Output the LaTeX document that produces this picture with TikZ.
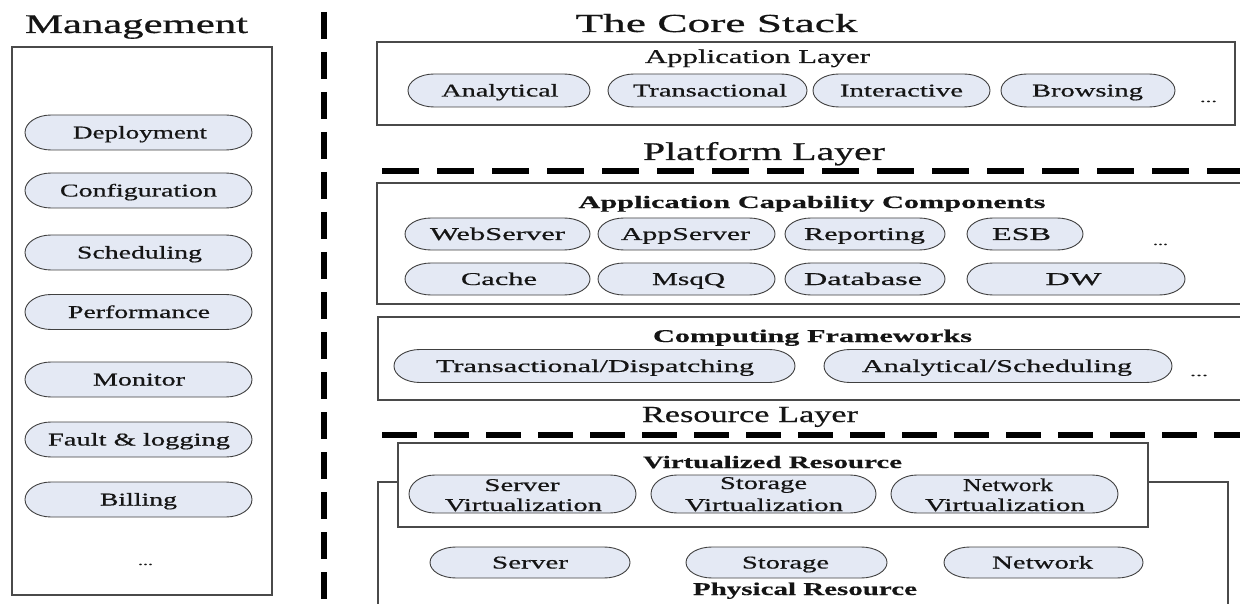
\documentclass[tikz,border=0pt]{standalone}
\usepackage{fontspec}
\setmainfont{Liberation Serif}[UprightFeatures={FakeBold=0.5},BoldFeatures={FakeBold=0.3}]
\usepackage{graphicx}
\definecolor{pillfill}{HTML}{E4E9F4}
\definecolor{pilldraw}{HTML}{404040}
\definecolor{boxdraw}{HTML}{4A4A4A}
\definecolor{txtcol}{HTML}{151515}
\tikzset{
  txt/.style={inner sep=0pt, anchor=base, text=txtcol},
  pillstyle/.style={fill=pillfill, draw=pilldraw, line width=0.9pt},
  boxstyle/.style={draw=boxdraw, line width=1.6pt},
  platsep/.style={line width=5.5pt, dash pattern=on 37pt off 18pt},
  ressep/.style={line width=5.5pt, dash pattern=on 35pt off 17pt},
  vsep/.style={line width=6pt, dash pattern=on 27pt off 13pt},
}
\newcommand\tx[3]{{\fontsize{#1pt}{#1pt}\selectfont\resizebox{#2pt}{\height}{#3}}}
\def\pillrx{26}
\newcommand\pillshape[4]{%
  \pgfmathsetmacro\plA{#1+\pillrx}%
  \pgfmathsetmacro\plB{#2-\pillrx}%
  \pgfmathsetmacro\plT{#3-#4/2}%
  \pgfmathsetmacro\plBo{#3+#4/2}%
  \pgfmathsetmacro\plry{#4/2}%
  \filldraw[pillstyle] (\plA,\plT) -- (\plB,\plT)
    arc[start angle=-90,end angle=90,x radius=\pillrx,y radius=\plry]
    -- (\plA,\plBo)
    arc[start angle=90,end angle=270,x radius=\pillrx,y radius=\plry] -- cycle;
}
\newcommand\pill[8]{\pillshape{#1}{#2}{#3}{#4}\node[txt] (#5) at (#6,#3+6) {\tx{18}{#7}{#8}};}
\begin{document}
\begin{tikzpicture}[x=1pt,y=-1pt]
\useasboundingbox[fill=white] (0,0) rectangle (1240,604);

% ---------- Management ----------
\node[txt] (mgmt) at (136.5,33) {\tx{27}{223}{Management}};
\draw[boxstyle] (12,47) rectangle (272,595);
\pill{25}{252}{132.5}{35}{dep}{140}{134}{Deployment}
\pill{25}{252}{190.5}{35}{conf}{138.5}{157}{Configuration}
\pill{25}{252}{252.5}{35}{sched}{139.5}{125}{Scheduling}
\pill{25}{252}{312}{35}{perf}{139}{142}{Performance}
\pill{25}{252}{379.5}{35}{mon}{139}{92}{Monitor}
\pill{25}{252}{439.5}{35}{fault}{139}{182}{Fault \& logging}
\pill{25}{252}{499.5}{35}{bill}{138.5}{77}{Billing}
\node[txt] (mdots) at (145.5,565) {\tx{12}{15}{...}};

% vertical separator
\coordinate (vtop) at (324,12);
\coordinate (vbot) at (324,600);
\draw[vsep] (vtop) -- (vbot);

% ---------- Core stack ----------
\node[txt] (core) at (716.5,32) {\tx{26}{282}{The Core Stack}};

% Application layer
\draw[boxstyle] (377,42) rectangle (1235,125);
\node[txt] (applayer) at (757.5,63) {\tx{19.5}{225}{Application Layer}};
\pill{408}{590}{90.5}{33}{ana}{500}{117}{Analytical}
\pill{608}{807}{90.5}{33}{trans}{710}{154}{Transactional}
\pill{813}{990}{90.5}{33}{inter}{901.5}{123}{Interactive}
\pill{1001}{1175}{90.5}{33}{brow}{1087.5}{111}{Browsing}
\node[txt] (adots) at (1208.5,102) {\tx{12}{17}{...}};

% Platform layer
\node[txt] (platlayer) at (764,160) {\tx{25.5}{242}{Platform Layer}};
\coordinate (pl1) at (382,171);
\coordinate (pl2) at (1260,171);
\draw[platsep] (pl1) -- (pl2);

\draw[boxstyle] (377,183) rectangle (1260,304);
\node[txt] (acc) at (812,208) {\tx{17.5}{467}{\bfseries Application Capability Components}};
\pill{405}{590}{234}{32}{web}{497.5}{135}{WebServer}
\pill{598}{775}{234}{32}{appsrv}{685.5}{129}{AppServer}
\pill{785}{945}{234}{32}{rep}{864.5}{121}{Reporting}
\pill{967}{1083}{234}{32}{esb}{1021.5}{59}{ESB}
\node[txt] (cdots) at (1160.5,245) {\tx{12}{15}{...}};
\pill{405}{590}{279}{32}{cache}{499}{76}{Cache}
\pill{598}{775}{279}{32}{msq}{688.5}{73}{MsqQ}
\pill{785}{945}{279}{32}{db}{863}{118}{Database}
\pill{967}{1185}{279}{32}{dw}{1073.5}{56}{DW}

\draw[boxstyle] (378,317) rectangle (1260,400);
\node[txt] (cf) at (812.5,342) {\tx{18}{319}{\bfseries Computing Frameworks}};
\pill{394}{795}{366}{33}{tdisp}{595}{318}{Transactional/Dispatching}
\pill{824}{1172}{366}{33}{asched}{997}{270}{Analytical/Scheduling}
\node[txt] (fdots) at (1199,376) {\tx{12}{18}{...}};

% Resource layer
\node[txt] (reslayer) at (750,422) {\tx{23}{216}{Resource Layer}};
\coordinate (rl1) at (382,435);
\coordinate (rl2) at (1260,435);
\draw[ressep] (rl1) -- (rl2);

\draw[boxstyle] (378,482) rectangle (1228,650);
\filldraw[boxstyle, fill=white] (398,443) rectangle (1148,527);
\node[txt] (virt) at (772.5,468) {\tx{17.5}{259}{\bfseries Virtualized Resource}};

\pillshape{409}{636}{494}{38}
\node[txt] (sv1) at (522,491) {\tx{18}{75}{Server}};
\node[txt] (sv2) at (523.5,511) {\tx{18}{157}{Virtualization}};
\pillshape{651}{876}{494}{38}
\node[txt] (stv1) at (763.5,489) {\tx{18}{87}{Storage}};
\node[txt] (stv2) at (764,511) {\tx{18}{158}{Virtualization}};
\pillshape{891}{1118}{494}{38}
\node[txt] (nv1) at (1008,491) {\tx{18}{90}{Network}};
\node[txt] (nv2) at (1005,511) {\tx{18}{160}{Virtualization}};

\pill{430}{630}{562.5}{31}{srv}{530}{76}{Server}
\pill{686}{887}{562.5}{31}{sto}{785.5}{87}{Storage}
\pill{944}{1143}{562.5}{31}{net}{1042.5}{101}{Network}
\node[txt] (phys) at (805,595) {\tx{18}{224}{\bfseries Physical Resource}};
\end{tikzpicture}
\end{document}
